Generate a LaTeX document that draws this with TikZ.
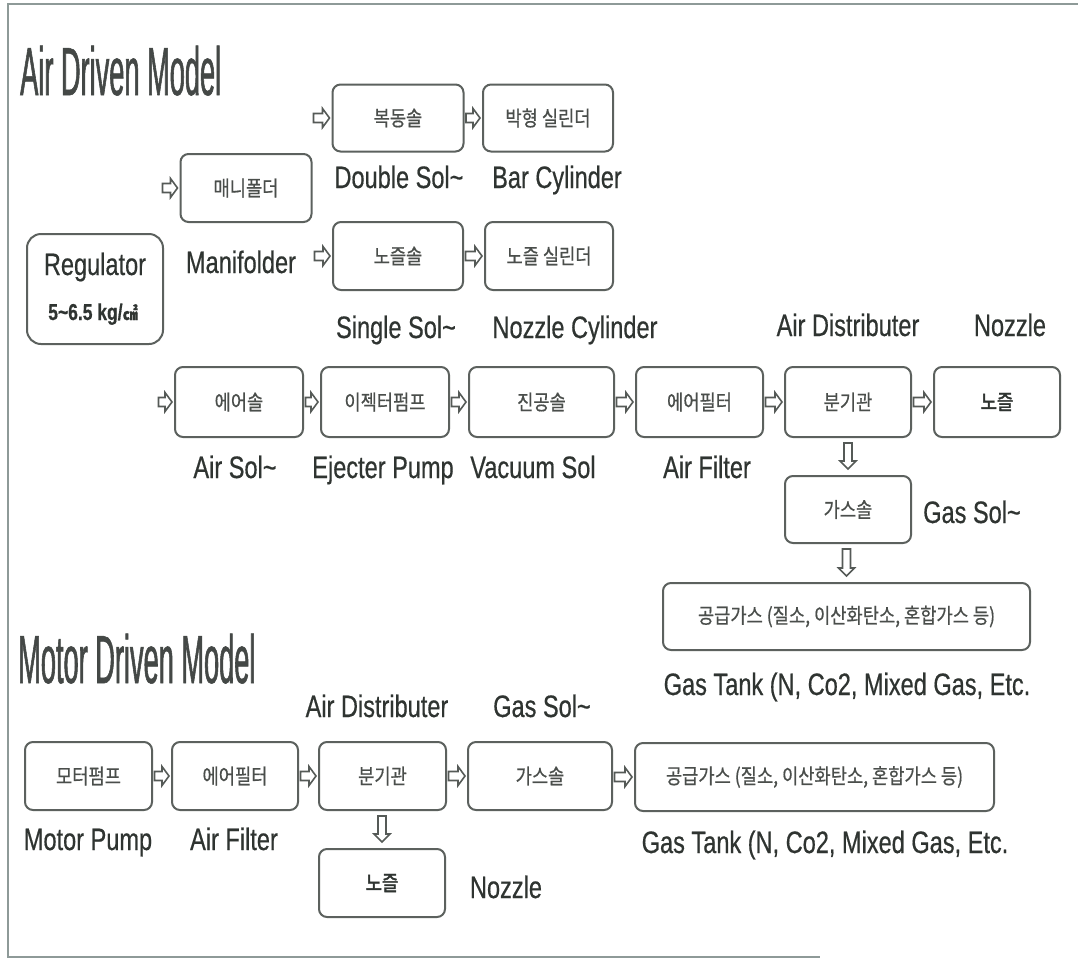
\documentclass[tikz,border=0pt]{standalone}
\usepackage{fontspec}
\usetikzlibrary{calc}
\newfontfamily\kr[FakeStretch=0.84,FakeBold=0.6]{Noto Sans CJK KR}
\newfontfamily\krb[FakeStretch=0.84,FakeBold=2]{Noto Sans CJK KR}
\newfontfamily\lab[FakeStretch=0.76,FakeBold=0.5]{Liberation Sans}
\newfontfamily\ttl[FakeStretch=0.40,FakeBold=0.8]{Liberation Sans}
\definecolor{boxc}{HTML}{5C615E}
\definecolor{krc}{HTML}{4A4E4B}
\definecolor{labc}{HTML}{2F3431}
\definecolor{arrc}{HTML}{555A57}
\definecolor{framec}{HTML}{8E9A98}
\begin{document}
\begin{tikzpicture}[x=1pt,y=-1pt,
  box/.style={draw=boxc, line width=2pt, rounded corners=8pt, minimum width=#1, minimum height=68pt, inner sep=0pt, font=\kr\fontsize{21}{24}\selectfont, text=krc},
  box/.default=128pt,
  lbl/.style={anchor=base, inner sep=0pt, font=\lab\fontsize{31}{36}\selectfont, text=labc},
  title/.style={anchor=base west, inner sep=0pt, font=\ttl\fontsize{68}{70}\selectfont, text=labc!90!white},
  ha/.style={draw=arrc, line width=1.6pt, line join=miter, to path={($(\tikztostart|-\tikztotarget)+(1.5,-4.5)$) -- ($(\tikztotarget)+(-9,-4.5)$) -- ($(\tikztotarget)+(-9,-9.5)$) -- ($(\tikztotarget)+(-2,0)$) -- ($(\tikztotarget)+(-9,9.5)$) -- ($(\tikztotarget)+(-9,4.5)$) -- ($(\tikztostart|-\tikztotarget)+(1.5,4.5)$) -- cycle}},
  va/.style={draw=arrc, line width=1.6pt, line join=miter, to path={($(\tikztotarget|-\tikztostart)+(-4,5)$) -- ($(\tikztotarget)+(-4,-14)$) -- ($(\tikztotarget)+(-8,-14)$) -- ($(\tikztotarget)+(0,-6)$) -- ($(\tikztotarget)+(8,-14)$) -- ($(\tikztotarget)+(4,-14)$) -- ($(\tikztotarget|-\tikztostart)+(4,5)$) -- cycle}}
]
\useasboundingbox (0,0) rectangle (1078,959);
\fill[white] (0,0) rectangle (1078,959);
% frame
\draw[framec, line width=1.6pt] (1078,4) -- (8,4) -- (8,957) -- (820,957);

% ---------- Air Driven Model ----------
\node[title] (t1) at (20,95) {Air Driven Model};

\node[box=136pt, minimum height=110pt, rounded corners=14pt] (reg) at (95,289) {};
\node[lbl] (reg1) at (95,275) {Regulator};
\node[lbl, font=\lab\bfseries\fontsize{23}{26}\selectfont] (reg2) at (93,320) {5\textasciitilde6.5 kg/{\kr\fontsize{18}{20}\selectfont ㎠}};

\node[box=131pt] (mani) at (246,188) {매니폴더};
\node[box=131pt, minimum height=67pt] (dsol) at (398,118) {복동솔};
\node[box=130pt, minimum height=67pt] (barc) at (548,118) {박형 실린더};
\node[box=130pt] (ssol) at (398,256) {노즐솔};
\node[box=128pt] (nozc) at (549,256) {노즐 실린더};

\node[box=128pt, minimum height=70pt] (airsol) at (239,402) {에어솔};
\node[box=128pt, minimum height=70pt] (eject) at (385,402) {이젝터펌프};
\node[box=145pt, minimum height=70pt] (vac) at (541.5,402) {진공솔};
\node[box=127pt, minimum height=70pt] (afl) at (699.5,402) {에어필터};
\node[box=126pt, minimum height=70pt] (dist) at (848,402) {분기관};
\node[box=126pt, minimum height=70pt, font=\krb\fontsize{21}{24}\selectfont, text=labc] (noz) at (997,402) {노즐};
\node[box=126pt, minimum height=67pt] (gsol) at (848,509.5) {가스솔};
\node[box=367pt, minimum height=67pt] (sup) at (846.5,616.5) {공급가스 (질소, 이산화탄소, 혼합가스 등)};

\coordinate (cm) at (161,188);
\coordinate (cd) at (312,118);
\coordinate (cs) at (313,256);
\coordinate (ca) at (157,402);

\draw[ha] (cm) to (mani.west);
\draw[ha] (cd) to (dsol.west);
\draw[ha] (dsol.east) to (barc.west);
\draw[ha] (cs) to (ssol.west);
\draw[ha] (ssol.east) to (nozc.west);
\draw[ha] (ca) to (airsol.west);
\draw[ha] (airsol.east) to (eject.west);
\draw[ha] (eject.east) to (vac.west);
\draw[ha] (vac.east) to (afl.west);
\draw[ha] (afl.east) to (dist.west);
\draw[ha] (dist.east) to (noz.west);
\draw[va] (dist.south) to (gsol.north);
\draw[va] (gsol.south) to (sup.north);

\node[lbl] (lDouble) at (399,188) {Double Sol\textasciitilde};
\node[lbl] (lBar) at (557,188) {Bar Cylinder};
\node[lbl] (lMani) at (241,273) {Manifolder};
\node[lbl] (lSingle) at (396,338) {Single Sol\textasciitilde};
\node[lbl] (lNozc) at (575,338) {Nozzle Cylinder};
\node[lbl] (lDist) at (848,336) {Air Distributer};
\node[lbl] (lNoz) at (1010,336) {Nozzle};
\node[lbl] (lAirsol) at (235,478) {Air Sol\textasciitilde};
\node[lbl] (lEject) at (383,478) {Ejecter Pump};
\node[lbl] (lVac) at (533,478) {Vacuum Sol};
\node[lbl] (lAf) at (707,478) {Air Filter};
\node[lbl] (lGas) at (972,523) {Gas Sol\textasciitilde};
\node[lbl] (lTank) at (847,695) {Gas Tank (N, Co2, Mixed Gas, Etc.};

% ---------- Motor Driven Model ----------
\node[title] (t2) at (18,683) {Motor Driven Model};

\node[box=127pt] (mp) at (88.5,776) {모터펌프};
\node[box=126pt] (maf) at (235,776) {에어필터};
\node[box=127pt] (mdist) at (382.5,776) {분기관};
\node[box=144pt] (mgs) at (540,776) {가스솔};
\node[box=359pt] (msup) at (814.5,777) {공급가스 (질소, 이산화탄소, 혼합가스 등)};
\node[box=126pt, font=\krb\fontsize{21}{24}\selectfont, text=labc] (mnoz) at (382,883) {노즐};

\draw[ha] (mp.east) to (maf.west);
\draw[ha] (maf.east) to (mdist.west);
\draw[ha] (mdist.east) to (mgs.west);
\draw[ha] (mgs.east) to (msup.west);
\draw[va] (mdist.south) to (mnoz.north);

\node[lbl] (mlDist) at (377,717) {Air Distributer};
\node[lbl] (mlGas) at (542,717) {Gas Sol\textasciitilde};
\node[lbl] (mlMp) at (88,850) {Motor Pump};
\node[lbl] (mlAf) at (234,850) {Air Filter};
\node[lbl] (mlTank) at (825,853) {Gas Tank (N, Co2, Mixed Gas, Etc.};
\node[lbl] (mlNoz) at (506,898) {Nozzle};
\end{tikzpicture}
\end{document}
